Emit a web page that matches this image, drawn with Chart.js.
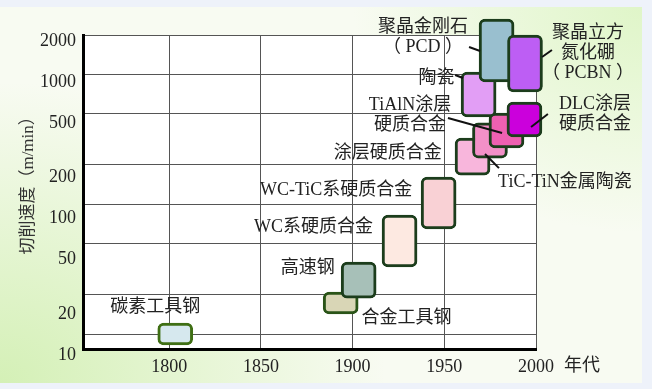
<!DOCTYPE html>
<html>
<head>
<meta charset="utf-8">
<script src="https://cdn.jsdelivr.net/npm/chart.js@4"></script>
<style>
  html, body { margin: 0; padding: 0; width: 652px; height: 389px; overflow: hidden; background: #eef2fa; }
  #panel {
    position: absolute; left: 0; top: 7px; width: 642px; height: 376px;
    background:
      radial-gradient(ellipse 60% 80% at 0% 100%, rgba(212,240,182,1), rgba(212,240,182,0) 100%),
      radial-gradient(ellipse 45% 60% at 100% 0%, rgba(222,245,198,0.95), rgba(222,245,198,0) 100%),
      #f8fbf2;
  }
  #c { position: absolute; left: 0; top: 0; }
</style>
</head>
<body>
<div id="panel"></div>
<canvas id="c" width="652" height="389"></canvas>
<script>
// tick values
const xTicks = [1800, 1850, 1900, 1950, 2000];
const yTicks = [10, 20, 50, 100, 200, 500, 1000, 2000];

// tool materials: year (box centre) and speed range (m/min)
const boxNames = ['碳素工具钢', '合金工具钢', '高速钢', 'WC系硬质合金', 'WC-TiC系硬质合金', '涂层硬质合金',
  'TiC-TiN金属陶瓷', 'TiAlN涂层硬质合金', 'DLC涂层硬质合金', '陶瓷', '聚晶金刚石(PCD)', '聚晶立方氮化硼(PCBN)'];
const boxYears = [1803.3, 1893.5, 1903.3, 1925.6, 1946.9, 1965.4, 1974.9, 1983.9, 1993.7, 1968.7, 1978.5, 1994];
const boxLow  = [8.23, 14.25, 18.9, 32.8, 64.3, 167, 226, 270, 328, 468, 870, 729];
const boxHigh = [12.15, 21.05, 35.8, 82.4, 161.6, 322, 421, 502, 610, 1038, 2656, 2000];

const boxFills = ['#d6e8ee', '#d9d6b6', '#a7c0b8', '#fde9e1', '#f9d1d5', '#f8b6dc',
  '#f390c8', '#ee60b1', '#cb00dc', '#e29ef5', '#99bfcf', '#bd5ef4'];
const boxBorders = ['#3f6f14', '#2a5418', '#1c3d1c', '#1c3d1c', '#1c3d1c', '#1c3d1c',
  '#1c3d1c', '#1c3d1c', '#1c3d1c', '#1c3d1c', '#1c3d1c', '#1c3d1c'];

// text labels (centre in year / speed)
const labelTexts = [['碳素工具钢'], ['合金工具钢'], ['高速钢'], ['WC系硬质合金'], ['WC-TiC系硬质合金'],
  ['涂层硬质合金'], ['TiC-TiN金属陶瓷'], ['TiAlN涂层', '硬质合金'], ['DLC涂层', '硬质合金'], ['陶瓷'],
  ['聚晶金刚石', '（ PCD ）'], ['聚晶立方', '氮化硼', '（ PCBN ）'], ['年代']];
const labelYears = [1792.4, 1929.4, 1875.5, 1878.7, 1891.0, 1919.1, 2015.8, 1931.3, 2032.2, 1945.8, 1938.4, 2028.3, 2025.1];
const labelValues = [16.1, 13.3, 32.2, 66.6, 128.3, 247.2, 147.9, 484.6, 489, 933.7, 1913, 1454, 5.67];

// leader lines: [text end, box end]
const leaderX = [[1963.5, 1969.5], [2008.7, 2003.3], [1955.9, 1960.2], [1952.0, 1981.5], [2006.5, 1997.3], [1979.8, 1972.2]];
const leaderY = [[1617, 1507], [1533, 1354], [984, 934], [459.5, 352], [493, 392], [189, 243]];

const FONT = '"Liberation Serif", "Noto Sans CJK SC", serif';

const plotBg = {
  id: 'plotBg',
  beforeDraw(chart) {
    const { ctx, chartArea: a } = chart;
    ctx.save();
    ctx.fillStyle = '#ffffff';
    ctx.fillRect(a.left, a.top, a.right - a.left, a.bottom - a.top);
    ctx.restore();
  }
};

const textLabels = {
  id: 'textLabels',
  afterDraw(chart) {
    const { ctx, scales: { x, y } } = chart;
    ctx.save();
    ctx.font = '18px ' + FONT;
    ctx.fillStyle = '#222';
    ctx.textAlign = 'center';
    ctx.textBaseline = 'middle';
    labelTexts.forEach((lines, i) => {
      const px = x.getPixelForValue(labelYears[i]);
      const py = y.getPixelForValue(labelValues[i]);
      lines.forEach((t, j) => ctx.fillText(t, px, py + (j - (lines.length - 1) / 2) * 20));
    });
    ctx.restore();
  }
};

const datasets = [{
  type: 'bar',
  label: '切削速度',
  data: boxYears.map((yr, i) => ({ x: yr, y: [boxLow[i], boxHigh[i]] })),
  backgroundColor: boxFills,
  borderColor: boxBorders,
  borderWidth: 3,
  borderRadius: 6,
  borderSkipped: false,
  barThickness: 35,
  clip: false,
  order: 2
}];
leaderX.forEach((xs, i) => {
  datasets.push({
    type: 'line',
    data: xs.map((v, j) => ({ x: v, y: leaderY[i][j] })),
    borderColor: '#111',
    borderWidth: 2,
    pointRadius: 0,
    fill: false,
    clip: false,
    order: 1
  });
});

new Chart(document.getElementById('c'), {
  type: 'bar',
  data: { datasets },
  plugins: [plotBg, textLabels],
  options: {
    responsive: false,
    animation: false,
    events: [],
    layout: { padding: { left: 18, top: 35, right: 116, bottom: 0 } },
    plugins: { legend: { display: false }, tooltip: { enabled: false } },
    scales: {
      x: {
        type: 'linear', min: 1753, max: 2000, offset: false,
        afterBuildTicks: s => { s.ticks = xTicks.map(v => ({ value: v })); },
        afterFit: s => { s.height = 40; },
        ticks: { font: { family: FONT, size: 18 }, color: '#222', padding: 7, maxRotation: 0, autoSkip: false, callback: v => String(v) },
        grid: { color: '#555', lineWidth: 1, drawTicks: false, offset: false },
        border: { color: '#000', width: 3 }
      },
      y: {
        type: 'logarithmic', min: 7.667, max: 2000, position: 'left', weight: 0,
        afterBuildTicks: s => { s.ticks = yTicks.map(v => ({ value: v })); },
        afterFit: s => { s.width = 0; },
        ticks: { display: false },
        grid: { color: '#555', lineWidth: 1, drawTicks: false },
        border: { color: '#000', width: 3 }
      },
      yl: {
        type: 'logarithmic', min: 10, max: 2000, position: 'left', weight: 1,
        afterBuildTicks: s => { s.ticks = yTicks.map(v => ({ value: v })); },
        afterFit: s => { s.width = 65; },
        ticks: { font: { family: FONT, size: 18 }, color: '#222', padding: 7, labelOffset: 6, autoSkip: false, callback: v => String(v) },
        grid: { display: false, drawTicks: false },
        border: { display: false },
        // leading ideographic space nudges the rotated title upward
        title: { display: true, text: '\u3000 切削速度（m/min）', font: { family: FONT, size: 17 }, color: '#333', padding: 0 }
      }
    }
  }
});
</script>
</body>
</html>
